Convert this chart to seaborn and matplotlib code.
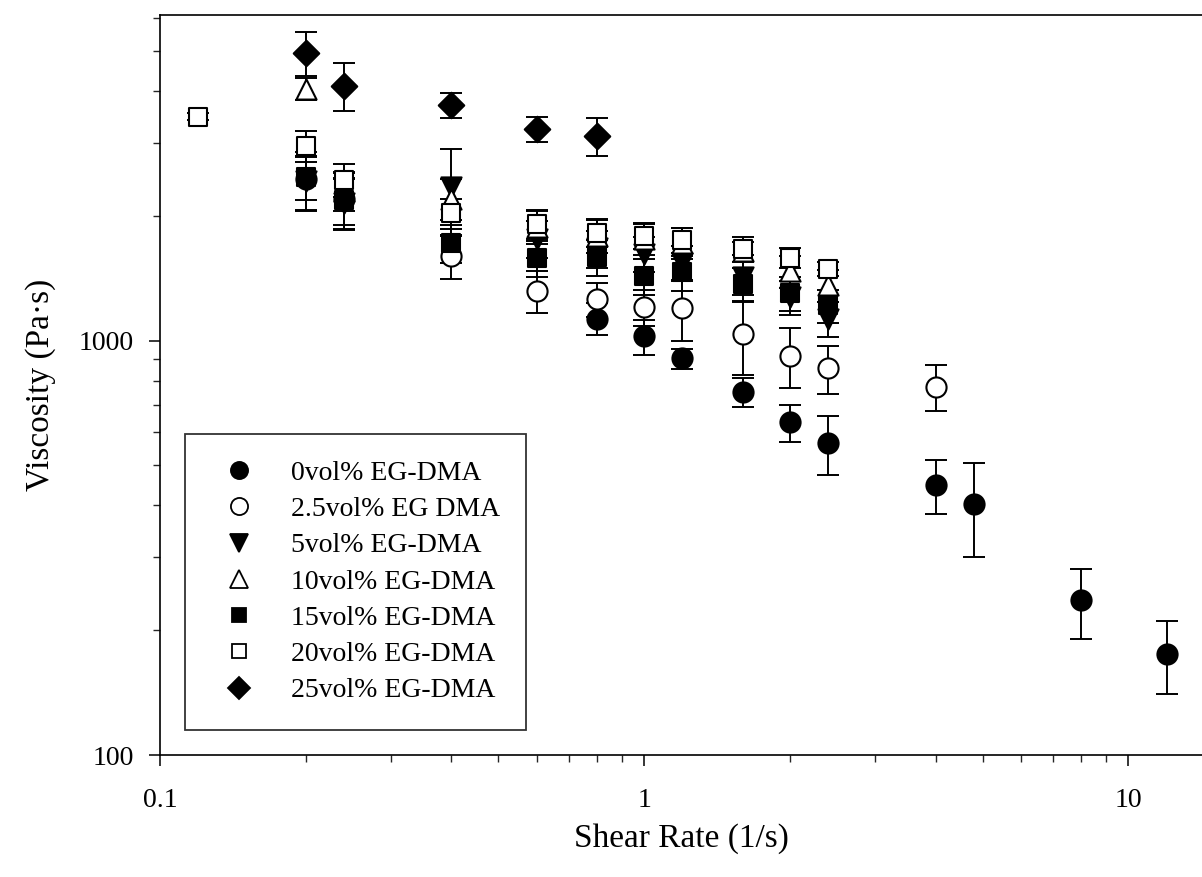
import seaborn as sns
import matplotlib.pyplot as plt
import pandas as pd
from matplotlib.lines import Line2D
from matplotlib.ticker import LogLocator, NullFormatter, FixedLocator, FixedFormatter

sns.set_theme(style="ticks")
plt.rcParams['font.family'] = ['Liberation Serif', 'DejaVu Serif']
plt.rcParams['text.color'] = 'black'
plt.rcParams['axes.labelcolor'] = 'black'

# datos (shear rate en 1/s, viscosidad en Pa·s)
x_0 = [0.2, 0.24, 0.8, 1.0, 1.2, 1.6, 2.0, 2.4, 4.0, 4.8, 8.0, 12.0]
y_0 = [2450, 2200, 1130, 1023, 905, 750, 635, 565, 448, 403, 236, 175]
e_0 = [400, 340, 100, 100, 50, 60, 65, 92, 66, 103, 45, 35]

x_25 = [0.4, 0.6, 0.8, 1.0, 1.2, 1.6, 2.0, 2.4, 4.0]
y_25 = [1600, 1320, 1260, 1205, 1200, 1035, 920, 857, 774]
e_25 = [190, 155, 120, 120, 200, 210, 150, 115, 97]

x_5 = [0.2, 0.24, 0.4, 0.6, 0.8, 1.0, 1.2, 1.6, 2.0, 2.4]
y_5 = [2420, 2150, 2350, 1760, 1670, 1620, 1540, 1420, 1270, 1130]
e_5 = [350, 300, 550, 180, 170, 160, 150, 130, 120, 110]

x_10 = [0.2, 0.24, 0.4, 0.6, 0.8, 1.0, 1.2, 1.6, 2.0, 2.4]
y_10 = [4050, 2300, 2200, 1880, 1790, 1760, 1720, 1640, 1470, 1360]
e_10 = [250, 250, 250, 170, 160, 150, 150, 140, 130, 120]

x_15 = [0.2, 0.24, 0.4, 0.6, 0.8, 1.0, 1.2, 1.6, 2.0, 2.4]
y_15 = [2480, 2180, 1720, 1580, 1590, 1430, 1460, 1370, 1300, 1215]
e_15 = [300, 280, 180, 160, 160, 140, 140, 130, 120, 110]

x_20 = [0.12, 0.2, 0.24, 0.4, 0.6, 0.8, 1.0, 1.2, 1.6, 2.0, 2.4]
y_20 = [3470, 2950, 2440, 2030, 1910, 1820, 1790, 1745, 1665, 1585, 1490]
e_20 = [60, 250, 220, 170, 150, 140, 130, 120, 60, 90, 60]

x_250 = [0.2, 0.24, 0.4, 0.6, 0.8]
y_250 = [4950, 4120, 3700, 3240, 3110]
e_250 = [600, 550, 250, 230, 330]

etiquetas = ["0vol% EG-DMA", "2.5vol% EG DMA", "5vol% EG-DMA", "10vol% EG-DMA",
             "15vol% EG-DMA", "20vol% EG-DMA", "25vol% EG-DMA"]

series = [
    (x_0, y_0, e_0, "o", True, 14.5),
    (x_25, y_25, e_25, "o", False, 14.5),
    (x_5, y_5, e_5, "v", True, 14.5),
    (x_10, y_10, e_10, "^", False, 14.5),
    (x_15, y_15, e_15, "s", True, 12.5),
    (x_20, y_20, e_20, "s", False, 12.5),
    (x_250, y_250, e_250, "D", True, 13),
]

fig = plt.figure(figsize=(12.02, 8.77), dpi=100)
ax = fig.add_axes([0.1331, 0.1391, 0.8669, 0.8438])

handles = []
for (xs, ys, es, m, lleno, ms), lab in zip(series, etiquetas):
    df = pd.DataFrame({"x": xs, "y": ys})
    ax.errorbar(xs, ys, yerr=es, fmt="none", ecolor="black", elinewidth=1.4,
                capsize=8, capthick=1.4, zorder=2)
    cara = "black" if lleno else "white"
    sns.scatterplot(data=df, x="x", y="y", marker=m, s=ms ** 2, color=cara,
                    edgecolor="black", linewidth=1.5, ax=ax, zorder=3, legend=False)
    handles.append(Line2D([], [], linestyle="none", marker=m, markersize=ms * 0.85,
                          markerfacecolor=cara, markeredgecolor="black",
                          markeredgewidth=1.3))

ax.set_xscale("log")
ax.set_yscale("log")
ax.set_xlim(0.1, 14.2)
ax.set_ylim(100, 6100)

ax.xaxis.set_major_locator(FixedLocator([0.1, 1, 10]))
ax.xaxis.set_major_formatter(FixedFormatter(["0.1", "1", "10"]))
ax.xaxis.set_minor_locator(LogLocator(base=10, subs=range(2, 10)))
ax.xaxis.set_minor_formatter(NullFormatter())
ax.yaxis.set_major_locator(FixedLocator([100, 1000]))
ax.yaxis.set_major_formatter(FixedFormatter(["100", "1000"]))
ax.yaxis.set_minor_locator(LogLocator(base=10, subs=range(2, 10)))
ax.yaxis.set_minor_formatter(NullFormatter())

ax.tick_params(which="major", direction="out", length=8, width=1.1,
               labelsize=20, colors="black")
ax.tick_params(axis="x", which="major", pad=16)
ax.tick_params(axis="y", which="major", pad=11)
ax.tick_params(which="minor", direction="out", length=5, width=1.0)

for lado in ["left", "bottom", "top"]:
    ax.spines[lado].set_linewidth(1.2)
    ax.spines[lado].set_color("black")
ax.spines["right"].set_visible(False)

ax.set_xlabel("Shear Rate (1/s)", fontsize=24, labelpad=7)
ax.set_ylabel("Viscosity (Pa·s)", fontsize=24, labelpad=16)

leg = ax.legend(handles, etiquetas, loc="lower left", bbox_to_anchor=(0.024, 0.034),
                fontsize=20, frameon=True, fancybox=False, edgecolor="black",
                handlelength=2.0, handletextpad=0.85, labelspacing=0.39,
                borderpad=0.95, borderaxespad=0)
leg.get_frame().set_linewidth(1.3)

fig.savefig("out.png", dpi=100)
